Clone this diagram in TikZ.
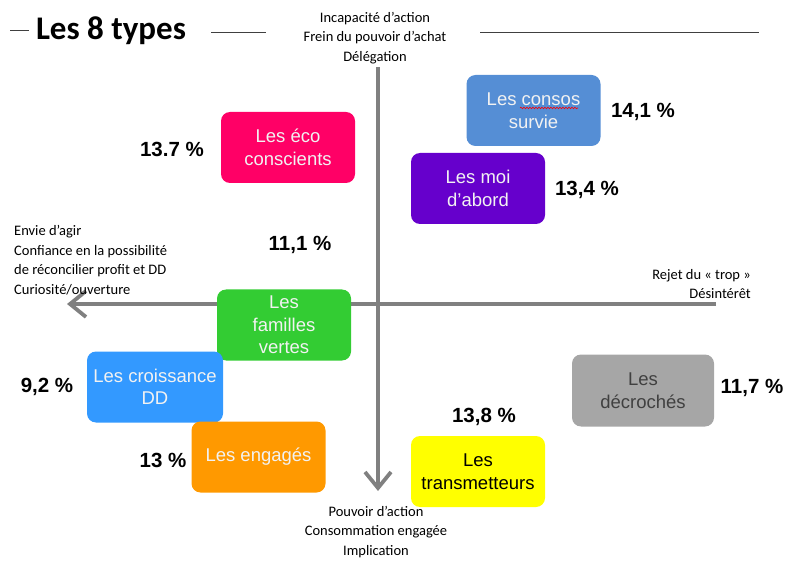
\documentclass[tikz,border=0pt]{standalone}
\usepackage{fontspec}
\setmainfont{Liberation Sans}
\newfontfamily\calib{Carlito}
\usetikzlibrary{arrows.meta,decorations.pathmorphing}
\definecolor{cConsos}{HTML}{558ED5}
\definecolor{cMoi}{HTML}{6600CC}
\definecolor{cEco}{HTML}{FF0066}
\definecolor{cFam}{HTML}{33CC33}
\definecolor{cCrois}{HTML}{3399FF}
\definecolor{cEng}{HTML}{FF9900}
\definecolor{cTrans}{HTML}{FFFF00}
\definecolor{cDecr}{HTML}{A6A6A6}
\definecolor{cAxis}{HTML}{808080}
\definecolor{cLight}{HTML}{F2F2F2}
\definecolor{cDark}{HTML}{404040}
\begin{document}
\begin{tikzpicture}[x=1pt,y=-1pt,
  typebox/.style={rounded corners=9pt, inner sep=0pt, align=center,
    minimum width=134pt, minimum height=71pt, text=cLight,
    font=\fontsize{18.5}{22.5}\selectfont},
  pct/.style={font=\fontsize{20.5}{24}\selectfont\bfseries},
  axislabel/.style={font=\calib\fontsize{14.5}{19.5}\selectfont, inner sep=0pt},
  axisline/.style={draw=cAxis, line width=4pt,
    -{Straight Barb[length=16pt,width=26pt,line width=3.8pt]}},
  titleline/.style={draw=black!75, line width=0.9pt}]
\useasboundingbox (0,0) rectangle (787,561);

% axes
\coordinate (vtop) at (378,67);
\coordinate (vbot) at (378,491);
\coordinate (hright) at (716,304);
\coordinate (hleft) at (67,304);
\draw[axisline] (vtop) -- (vbot);
\draw[axisline] (hright) -- (hleft);

% title
\node[font=\calib\bfseries\fontsize{33}{38}\selectfont, inner sep=0pt] (title) at (111,31) {Les 8 types};
\coordinate (t1a) at (10,30); \coordinate (t1b) at (29,30);
\coordinate (t2a) at (211,32); \coordinate (t2b) at (266,32);
\coordinate (t3a) at (480,32); \coordinate (t3b) at (759,32);
\draw[titleline] (t1a) -- (t1b);
\draw[titleline] (t2a) -- (t2b);
\draw[titleline] (t3a) -- (t3b);

% axis labels
\node[axislabel, align=center] (toplab) at (375,38) {Incapacité d’action\\Frein du pouvoir d’achat\\Délégation};
\node[axislabel, align=left, anchor=west] (leftlab) at (14,260) {Envie d’agir\\Confiance en la possibilité\\de réconcilier profit et DD\\Curiosité/ouverture};
\node[axislabel, align=right, anchor=east] (rightlab) at (751,284) {Rejet du « trop »\\Désintérêt};
\node[axislabel, align=center] (botlab) at (376,532) {Pouvoir d’action\\Consommation engagée\\Implication};

% boxes
\node[typebox, fill=cConsos] (consos) at (533.5,110.5) {Les consos\\survie};
\node[typebox, fill=cMoi] (moi) at (478,188.5) {Les moi\\d’abord};
\node[typebox, fill=cEco] (eco) at (288,147.5) {Les éco\\conscients};
\node[typebox, fill=cFam] (fam) at (284,325) {Les\\familles\\vertes};
\node[typebox, fill=cCrois, minimum width=136pt] (crois) at (155,387) {Les croissance\\DD};
\node[typebox, fill=cEng] (eng) at (258.5,457) {Les engagés};
\node[typebox, fill=cTrans, text=black] (trans) at (478,471.5) {Les\\transmetteurs};
\node[typebox, fill=cDecr, text=cDark, minimum width=142pt, minimum height=72pt] (decr) at (643,390.5) {Les\\décrochés};

% spell-check underline
\coordinate (wa) at (520,108); \coordinate (wb) at (578,108);
\draw[red, line width=0.6pt, decorate, decoration={snake, amplitude=0.8pt, segment length=3pt}] (wa) -- (wb);

% percentages
\node[pct] (p1) at (643,112) {14,1 \%};
\node[pct] (p2) at (587,190) {13,4 \%};
\node[pct] (p3) at (172,149) {13.7 \%};
\node[pct] (p4) at (300,245) {11,1 \%};
\node[pct] (p5) at (47,387) {9,2 \%};
\node[pct] (p6) at (163,460) {13 \%};
\node[pct] (p7) at (484,417) {13,8 \%};
\node[pct] (p8) at (752,388) {11,7 \%};
\end{tikzpicture}
\end{document}
